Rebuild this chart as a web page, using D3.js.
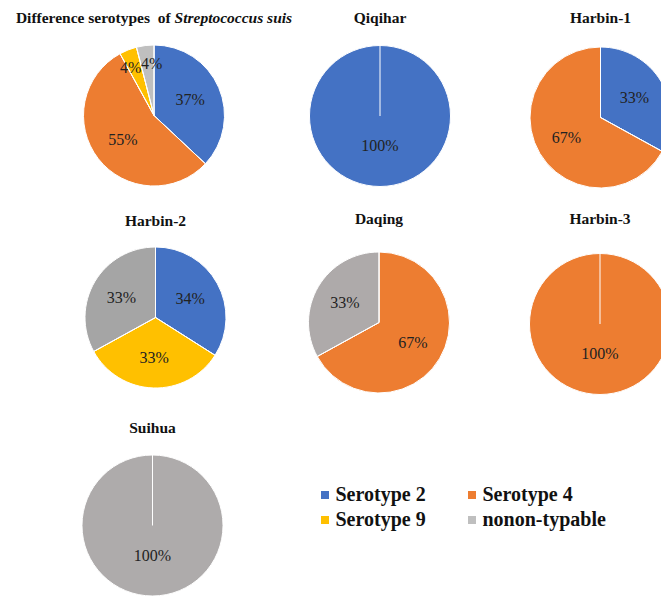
<!DOCTYPE html>
<html>
<head>
<meta charset="utf-8">
<script src="https://cdn.jsdelivr.net/npm/d3@7"></script>
<style>
  html, body { margin: 0; padding: 0; background: #fff; }
  svg { display: block; }
</style>
</head>
<body>
<svg id="chart" width="661" height="597"></svg>
<script>
// Pie titles (regions) and serotype shares in percent, one array per serotype
const regions = ["Overall", "Qiqihar", "Harbin-1", "Harbin-2", "Daqing", "Harbin-3", "Suihua"];
const serotypes = ["Serotype 2", "Serotype 4", "Serotype 9", "nonon-typable"];
const serotype2  = [37, 100, 33, 34, 0, 0, 0];
const serotype4  = [55, 0, 67, 0, 67, 100, 0];
const serotype9  = [4, 0, 0, 33, 0, 0, 0];
const nontypable = [4, 0, 0, 33, 33, 0, 100];

const seriesValues = [serotype2, serotype4, serotype9, nontypable];

// layout: pie centres in the grid and title baselines
const layout = [
  { cx: 154, cy: 115.5, ty: 23 },
  { cx: 380, cy: 116, ty: 23 },
  { cx: 600.5, cy: 117.5, ty: 23 },
  { cx: 155.5, cy: 317.5, ty: 225.5 },
  { cx: 379, cy: 322.5, ty: 224 },
  { cx: 600, cy: 324, ty: 223.5 },
  { cx: 152.5, cy: 525.5, ty: 432.5 }
];
const R = 70.5;

const baseColors = ["#4472C4", "#ED7D31", "#FFC000", "#BFBFBF"];
// grey tone used for the non-typable slice in each pie
const greyTone = ["#BFBFBF", "#A5A5A5", "#A5A5A5", "#A5A5A5", "#AEAAAA", "#AEAAAA", "#AEABAB"];

const svg = d3.select("#chart");
const serif = "'Liberation Serif', 'Times New Roman', serif";

const pie = d3.pie().sort(null).value(d => d.value);
const arc = d3.arc().innerRadius(0).outerRadius(R);

regions.forEach((name, i) => {
  const pos = layout[i];
  const data = serotypes.map((s, k) => ({ key: s, k, value: seriesValues[k][i] }));
  const total = d3.sum(data, d => d.value);
  const arcs = pie(data).filter(d => d.data.value > 0);

  const g = svg.append("g").attr("transform", `translate(${pos.cx},${pos.cy})`);

  const color = k => (k === 3 ? greyTone[i] : baseColors[k]);

  g.selectAll("path.slice")
    .data(arcs)
    .join("path")
    .attr("class", "slice")
    .attr("d", arc)
    .attr("fill", d => color(d.data.k))
    .attr("stroke", "#fff")
    .attr("stroke-width", 1);

  // slice borders from the centre (also visible on single-slice pies)
  g.selectAll("line.edge")
    .data(arcs)
    .join("line")
    .attr("class", "edge")
    .attr("x1", 0).attr("y1", 0)
    .attr("x2", d => R * Math.sin(d.startAngle))
    .attr("y2", d => -R * Math.cos(d.startAngle))
    .attr("stroke", "#fff")
    .attr("stroke-width", 1);

  // label anchor points: small slices sit further out, single slices lower
  const labels = arcs.map(d => {
    const frac = d.data.value / total;
    const small = frac < 0.1;
    const rr = frac >= 1 ? 0.42 * R : small ? 0.74 * R : 0.56 * R;
    const a = (d.startAngle + d.endAngle) / 2;
    return { d, small, x: rr * Math.sin(a), y: -rr * Math.cos(a),
             text: d3.format(".0f")(frac * 100) + "%" };
  });
  // push neighbouring small-slice labels apart so they do not collide
  for (let a = 0; a < labels.length; a++) {
    for (let b = a + 1; b < labels.length; b++) {
      const la = labels[a], lb = labels[b];
      if (!la.small || !lb.small) continue;
      const dx = lb.x - la.x, dy = lb.y - la.y;
      const need = 21;
      if (Math.abs(dx) < need && Math.abs(dy) < 17) {
        const shift = (need - Math.abs(dx)) / 2;
        const s = dx >= 0 ? 1 : -1;
        la.x -= s * shift; lb.x += s * shift;
      }
    }
  }

  g.selectAll("text.lbl")
    .data(labels)
    .join("text")
    .attr("class", "lbl")
    .attr("x", l => l.x)
    .attr("y", l => l.y)
    .attr("text-anchor", "middle")
    .attr("dy", "0.35em")
    .style("font-family", serif)
    .style("font-size", "16px")
    .attr("fill", "#222")
    .text(l => l.text);

  // title
  const t = svg.append("text")
    .attr("x", pos.cx)
    .attr("y", pos.ty)
    .attr("text-anchor", "middle")
    .style("font-family", serif)
    .style("font-size", "15.5px")
    .style("font-weight", "bold")
    .attr("fill", "#111");
  if (i === 0) {
    t.append("tspan").text("Difference serotypes\u00a0 of ");
    t.append("tspan").style("font-style", "italic").text("Streptococcus suis");
  } else {
    t.text(name);
  }
});

// legend
const legend = svg.append("g");
const legendPos = [
  { x: 321, y: 500.5 }, { x: 468, y: 500.5 },
  { x: 321, y: 525.5 }, { x: 468, y: 525.5 }
];
serotypes.forEach((s, k) => {
  const p = legendPos[k];
  legend.append("rect")
    .attr("x", p.x).attr("y", p.y - 9.5)
    .attr("width", 8).attr("height", 8)
    .attr("fill", baseColors[k]);
  legend.append("text")
    .attr("x", p.x + 14.5).attr("y", p.y)
    .style("font-family", serif)
    .style("font-size", "20px")
    .style("font-weight", "bold")
    .attr("fill", "#111")
    .text(s);
});
</script>
</body>
</html>
